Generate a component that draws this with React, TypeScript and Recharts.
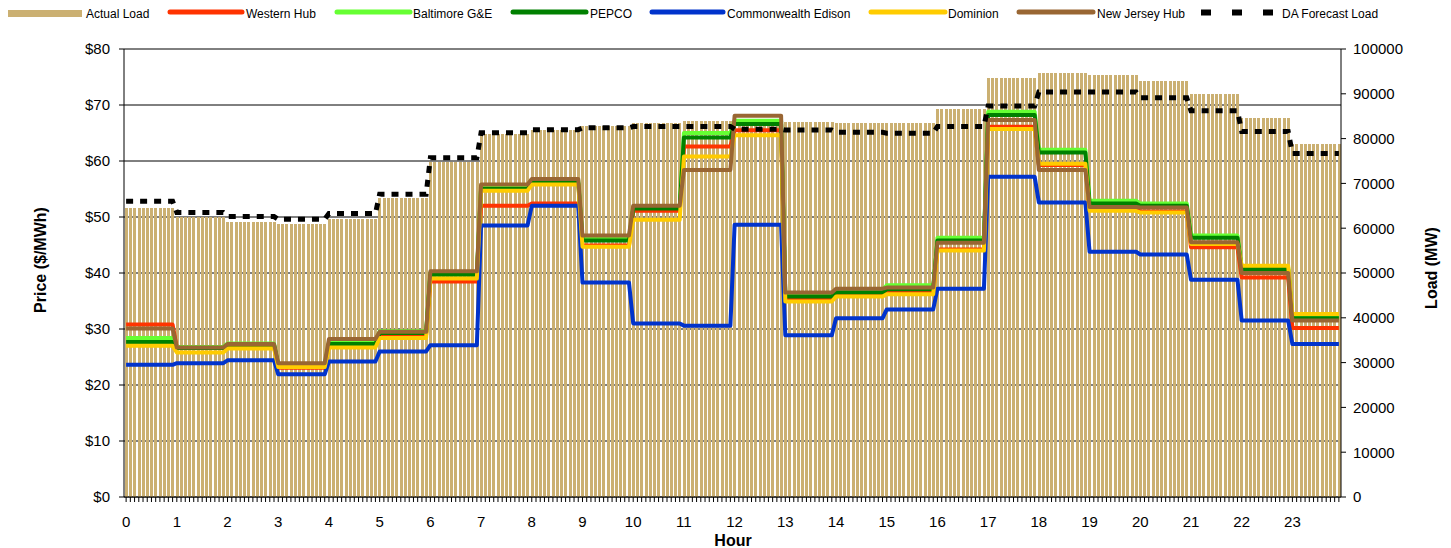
import React from 'react'
import { ComposedChart, Bar, Line, XAxis, YAxis, CartesianGrid } from 'recharts'

document.body.style.margin = '0'

/* ── hourly values (each hour = 12 five-minute steps) ── */

const HOURS = Array.from({ length: 24 }, (_, h) => h)
const STEPS_PER_HOUR = 12

const ACTUAL_LOAD = [64600, 62400, 61300, 61000, 62000, 66700, 74800, 81100, 82000, 82800, 83500, 84000, 84000, 83700, 83500, 83500, 86600, 93500, 94700, 94200, 92900, 90000, 84600, 78900]
const DA_FORECAST = [66000, 63500, 62600, 62000, 63300, 67600, 75700, 81300, 82000, 82400, 82700, 82700, 82100, 81900, 81400, 81200, 82700, 87300, 90400, 90400, 89100, 86200, 81600, 76700]

const WESTERN_HUB = [30.8, 26.6, 27.0, 23.1, 27.5, 29.0, 38.5, 52.0, 52.4, 44.9, 51.1, 62.6, 65.5, 35.5, 36.2, 36.5, 44.2, 66.1, 59.3, 51.3, 51.0, 44.6, 39.2, 30.2]
const BALTIMORE = [28.4, 26.8, 27.4, 23.7, 27.6, 29.6, 40.0, 55.2, 56.5, 46.1, 51.8, 65.0, 67.2, 36.0, 36.9, 37.8, 46.3, 68.8, 62.0, 52.9, 52.4, 46.7, 41.0, 32.2]
const PEPCO = [27.7, 26.6, 27.2, 23.5, 27.3, 29.3, 39.7, 55.0, 56.1, 45.8, 51.5, 64.2, 66.6, 35.8, 36.5, 37.1, 45.8, 68.2, 61.5, 52.4, 52.0, 46.3, 40.7, 31.9]
const COMED = [23.6, 23.9, 24.4, 21.9, 24.2, 26.0, 27.1, 48.5, 52.0, 38.3, 31.0, 30.6, 48.6, 28.9, 31.9, 33.5, 37.2, 57.2, 52.6, 43.8, 43.3, 38.8, 31.5, 27.3]
const DOMINION = [27.0, 25.8, 26.5, 23.2, 26.7, 28.4, 39.0, 54.7, 55.8, 44.7, 49.5, 60.8, 64.6, 34.9, 35.8, 36.2, 44.0, 65.7, 59.5, 51.1, 50.8, 45.2, 41.3, 32.7]
const NJ_HUB = [30.1, 26.7, 27.3, 23.9, 28.2, 29.5, 40.3, 55.8, 56.8, 46.7, 52.0, 58.4, 68.1, 36.5, 37.2, 37.4, 45.4, 67.3, 58.4, 51.8, 51.7, 45.5, 40.0, 31.5]

const PRICE_TICKS = [0, 10, 20, 30, 40, 50, 60, 70, 80]
const LOAD_TICKS = [0, 10000, 20000, 30000, 40000, 50000, 60000, 70000, 80000, 90000, 100000]

const PRICE_SERIES = [
  { key: 'western', name: 'Western Hub', color: '#FF3300', values: WESTERN_HUB },
  { key: 'baltimore', name: 'Baltimore G&E', color: '#66FF33', values: BALTIMORE },
  { key: 'pepco', name: 'PEPCO', color: '#008000', values: PEPCO },
  { key: 'comed', name: 'Commonwealth Edison', color: '#0033CC', values: COMED },
  { key: 'dominion', name: 'Dominion', color: '#FFCC00', values: DOMINION },
  { key: 'njhub', name: 'New Jersey Hub', color: '#996633', values: NJ_HUB },
]

const LOAD_COLOR = '#CBB072'
const FONT = '"Liberation Sans", Arial, sans-serif'

const data = HOURS.flatMap((h) =>
  Array.from({ length: STEPS_PER_HOUR }, (_, s) => {
    const row: Record<string, number> = {
      i: h * STEPS_PER_HOUR + s,
      hour: h,
      load: ACTUAL_LOAD[h],
      da: DA_FORECAST[h],
    }
    PRICE_SERIES.forEach((p) => { row[p.key] = p.values[h] })
    return row
  })
)

/* ── legend layout (swatch start, swatch end, text x) ── */
const LEGEND_POS = [
  [8, 82, 86], [168, 244, 246], [335, 412, 413], [511, 588, 590],
  [650, 725, 727], [869, 947, 948], [1017, 1095, 1097],
]

function HourTick(props: any) {
  const { x, y, payload, index } = props
  if (index % STEPS_PER_HOUR !== 0) return <g />
  return (
    <text x={x} y={y + 23} textAnchor="middle" fontSize={15} fontFamily={FONT} fill="#000">
      {Math.floor(payload.value / STEPS_PER_HOUR)}
    </text>
  )
}

function Overlay() {
  return (
    <svg width={1451} height={548} style={{ position: 'absolute', left: 0, top: 0, pointerEvents: 'none' }}>
      <g fontFamily={FONT} fontSize={12} fill="#000">
        <rect x={8} y={10} width={74} height={7} fill={LOAD_COLOR} />
        <text x={86} y={17.5}>Actual Load</text>
        {PRICE_SERIES.map((p, k) => {
          const [a, b, t] = LEGEND_POS[k + 1]
          return (
            <g key={p.key}>
              <line x1={a + 2} x2={b - 2} y1={12} y2={12} stroke={p.color} strokeWidth={5} strokeLinecap="round" />
              <text x={t} y={17.5}>{p.name}</text>
            </g>
          )
        })}
        <line x1={1201} x2={1273} y1={12.5} y2={12.5} stroke="#000" strokeWidth={6} strokeDasharray="10 21" />
        <text x={1282} y={17.5}>DA Forecast Load</text>
      </g>
      <g fontFamily={FONT} fontSize={16} fontWeight="bold" fill="#000">
        <text x={733} y={545.5} textAnchor="middle">Hour</text>
        <text transform="translate(46,260) rotate(-90)" textAnchor="middle">Price ($/MWh)</text>
        <text transform="translate(1437,268) rotate(-90)" textAnchor="middle">Load (MW)</text>
      </g>
    </svg>
  )
}

export default function App() {
  return (
    <div style={{ position: 'relative', width: 1451, height: 548, background: '#fff' }}>
      <ComposedChart
        width={1451}
        height={548}
        data={data}
        margin={{ top: 49, right: 0, bottom: 0, left: 0 }}
        barCategoryGap="20%"
      >
        <CartesianGrid yAxisId="left" vertical={false} stroke="#000" strokeWidth={1} />
        <XAxis
          dataKey="i"
          type="category"
          interval={0}
          height={51}
          tickSize={5}
          tick={<HourTick />}
          axisLine={{ stroke: '#000' }}
          tickLine={{ stroke: '#000' }}
        />
        <YAxis
          yAxisId="left"
          domain={[0, 80]}
          ticks={PRICE_TICKS}
          tickFormatter={(v: number) => `$${v}`}
          width={124}
          tickSize={5}
          tickMargin={9}
          axisLine={{ stroke: '#000' }}
          tickLine={{ stroke: '#000' }}
          tick={{ fill: '#000', fontSize: 15, fontFamily: FONT }}
        />
        <YAxis
          yAxisId="right"
          orientation="right"
          domain={[0, 100000]}
          ticks={LOAD_TICKS}
          width={110}
          tickSize={5}
          tickMargin={7}
          axisLine={{ stroke: '#000' }}
          tickLine={{ stroke: '#000' }}
          tick={{ fill: '#000', fontSize: 15, fontFamily: FONT }}
        />
        <Bar
          yAxisId="right"
          dataKey="load"
          name="Actual Load"
          fill={LOAD_COLOR}
          shapeRendering="crispEdges"
          isAnimationActive={false}
        />
        {PRICE_SERIES.map((p) => (
          <Line
            key={p.key}
            yAxisId="left"
            type="linear"
            dataKey={p.key}
            name={p.name}
            stroke={p.color}
            strokeWidth={4}
            strokeLinejoin="round"
            dot={false}
            activeDot={false}
            isAnimationActive={false}
          />
        ))}
        <Line
          yAxisId="right"
          type="linear"
          dataKey="da"
          name="DA Forecast Load"
          stroke="#000"
          strokeWidth={5}
          strokeDasharray="7 7"
          dot={false}
          activeDot={false}
          isAnimationActive={false}
        />
      </ComposedChart>
      <Overlay />
    </div>
  )
}
